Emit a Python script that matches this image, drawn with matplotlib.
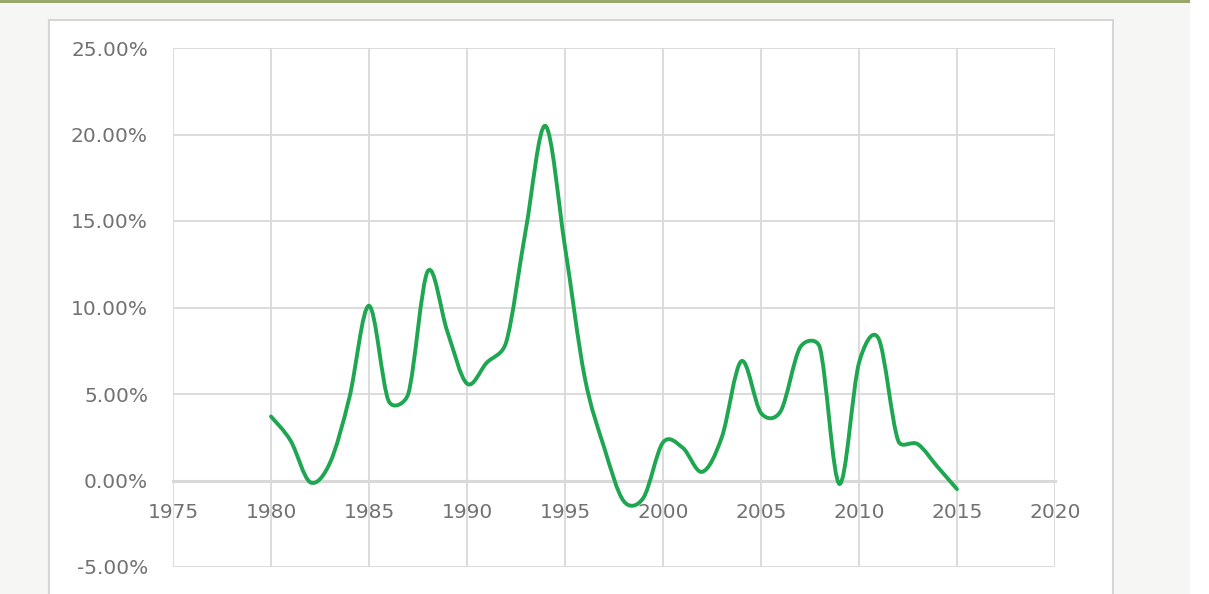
import numpy as np
import matplotlib
matplotlib.use("Agg")
import matplotlib.pyplot as plt
from matplotlib.path import Path
from matplotlib.patches import PathPatch, Rectangle
from matplotlib.ticker import FuncFormatter

# yearly growth rate, percent
years = list(range(1980, 2016))
growth = [3.7, 2.3, -0.1, 1.0, 4.8, 10.1, 4.6, 5.0, 12.1, 8.6,
          5.6, 6.8, 8.0, 14.5, 20.5, 13.5, 6.0, 1.9, -1.2, -1.0,
          2.2, 1.9, 0.5, 2.5, 6.9, 3.9, 4.0, 7.7, 7.7, -0.2,
          6.8, 8.2, 2.3, 2.1, 0.8, -0.5]

x_ticks = list(range(1975, 2021, 5))
y_ticks = [-5, 0, 5, 10, 15, 20, 25]

LINE = "#1ea651"
GRID = "#d9d9d9"
TEXT = "#727272"


def smooth_path(ax, xs, ys):
    # excel-like smoothed line: catmull-rom bezier handles (1/6 of the
    # neighbour chord), capped at half the segment length on screen
    data = np.column_stack([xs, ys]).astype(float)
    pts = ax.transData.transform(data)
    n = len(pts)

    def handle(vec, seg):
        h = vec / 6
        L = np.hypot(*h)
        cap = 0.5 * seg
        return h * (cap / L) if L > cap else h

    verts = [pts[0]]
    codes = [Path.MOVETO]
    for i in range(n - 1):
        i0 = max(i - 1, 0)
        i3 = min(i + 2, n - 1)
        seg = np.hypot(*(pts[i + 1] - pts[i]))
        c1 = pts[i] + handle(pts[i + 1] - pts[i0], seg)
        c2 = pts[i + 1] - handle(pts[i3] - pts[i], seg)
        verts += [c1, c2, pts[i + 1]]
        codes += [Path.CURVE4] * 3
    inv = ax.transData.inverted()
    return Path(inv.transform(np.array(verts)), codes)


W, H = 1209, 594
fig = plt.figure(figsize=(W / 100, H / 100), dpi=100)
fig.patch.set_facecolor("#f6f6f4")

# page decoration: olive rule on top, white strip right, white chart box
fig.patches.append(Rectangle((1190 / W, 0), 19 / W, 1, transform=fig.transFigure,
                             facecolor="white", edgecolor="none", zorder=-2))
fig.patches.append(Rectangle((0, 1 - 3 / H), 1190 / W, 3 / H, transform=fig.transFigure,
                             facecolor="#9aa870", edgecolor="none", zorder=-2))
fig.patches.append(Rectangle((49 / W, -0.01), (1113 - 49) / W, (594 - 20) / H + 0.01,
                             transform=fig.transFigure, facecolor="white",
                             edgecolor="#d6d6d6", linewidth=1.5, zorder=-2))

ax = fig.add_axes([173 / W, (594 - 567) / H, (1055 - 173) / W, (567 - 48) / H])
ax.set_zorder(1)
ax.set_facecolor("white")
ax.set_xlim(1975, 2020)
ax.set_ylim(-5, 25)
ax.set_xticks(x_ticks)
ax.set_yticks(y_ticks)
ax.yaxis.set_major_formatter(FuncFormatter(lambda v, _: f"{v:.2f}%"))
ax.grid(True, color=GRID, linewidth=1.3)
ax.set_axisbelow(True)

for s in ["top", "left", "right"]:
    ax.spines[s].set_visible(False)
ax.spines["bottom"].set_position(("data", 0))
ax.spines["bottom"].set_color(GRID)
ax.spines["bottom"].set_linewidth(2.2)
ax.spines["bottom"].set_zorder(1)

ax.tick_params(axis="both", length=0, colors=TEXT, labelsize=14.5)
ax.tick_params(axis="x", pad=16)
ax.tick_params(axis="y", pad=18)
for lab in ax.get_xticklabels() + ax.get_yticklabels():
    lab.set_fontfamily("DejaVu Sans")

ax.add_patch(PathPatch(smooth_path(ax, years, growth), fill=False, edgecolor=LINE,
                       linewidth=2.8, capstyle="round", joinstyle="round", zorder=3))

fig.savefig("out.png", dpi=100, facecolor=fig.get_facecolor())
